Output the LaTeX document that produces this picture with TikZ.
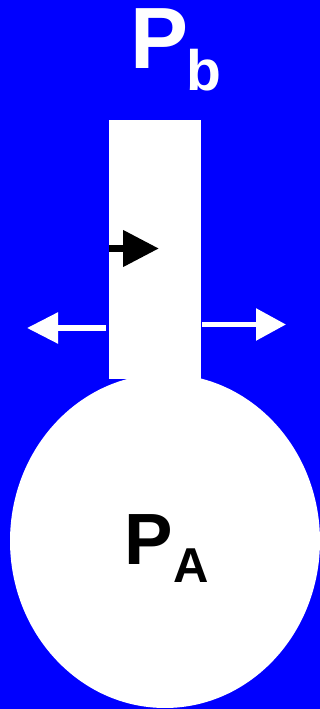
\documentclass[tikz,border=0pt]{standalone}
\usepackage{fontspec}
\setmainfont{Liberation Sans}
\usetikzlibrary{arrows.meta}
\definecolor{bg}{RGB}{0,0,255}

\begin{document}
\begin{tikzpicture}[x=1pt,y=1pt,
  lbl/.style={inner sep=0,anchor=base west,font=\bfseries}]
      \fill[bg] (0,0) rectangle (320,709);
      \useasboundingbox (0,0) rectangle (320,709);
      \fill[white] (165,168) ellipse [x radius=155,y radius=167];
      \fill[white] (109,330) rectangle (201,589);
      \node[lbl,white,font=\bfseries\fontsize{87}{87}\selectfont] (P) at (130,640) {P};
      \node[lbl,white,font=\bfseries\fontsize{57}{57}\selectfont] (b) at (186,618) {b};
      \node[lbl,font=\bfseries\fontsize{72.6}{72.6}\selectfont] (PA) at (124.5,144) {P};
      \node[lbl,font=\bfseries\fontsize{49}{49}\selectfont] (A) at (173.5,126) {A};
      \coordinate (in0) at (109,460.5);
      \coordinate (in1) at (159,460.5);
      \coordinate (l0) at (106,381);
      \coordinate (l1) at (27,381);
      \coordinate (r0) at (202,384.5);
      \coordinate (r1) at (286,384.5);
      \draw[line width=7.5pt,-{Triangle[length=36pt,width=35pt]}] (in0) -- (in1);
      \draw[white,line width=5.5pt,-{Triangle[length=31pt,width=30pt]}] (l0) -- (l1);
      \draw[white,line width=5.6pt,-{Triangle[length=30pt,width=31pt]}] (r0) -- (r1);
\end{tikzpicture}
\end{document}
